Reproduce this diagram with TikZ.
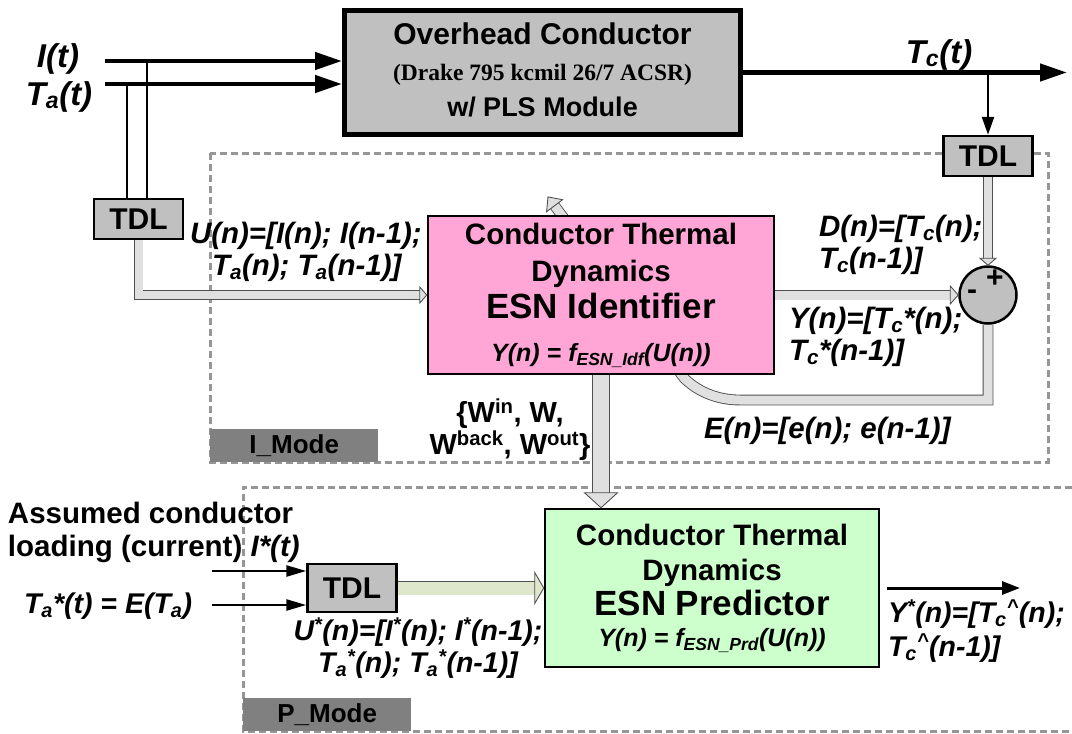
\documentclass[tikz,border=0pt]{standalone}
\usepackage{fontspec}
\setmainfont{Liberation Sans}
\newfontfamily\tms{Liberation Serif}
\usetikzlibrary{arrows.meta,backgrounds}

\definecolor{boxgray}{RGB}{192,192,192}
\definecolor{pinkbox}{RGB}{255,166,214}
\definecolor{greenbox}{RGB}{204,255,204}
\definecolor{dashgray}{RGB}{150,150,150}
\definecolor{modegray}{RGB}{128,128,128}
\definecolor{fatfill}{RGB}{224,224,224}
\definecolor{fatgreen}{RGB}{222,230,204}
\definecolor{fatline}{RGB}{80,80,80}

% fat arrow head: point, angle, length, half width, fill colour
\newcommand{\fathead}[5]{%
  \draw[fatline, line width=0.9pt, fill=#5, line join=miter, rotate around={#2:(#1)}]
    (#1) -- ++(-#3,#4) -- ++(0,-2*#4) -- cycle;}

\tikzset{
  lbl/.style={font=\fontsize{29.5}{32}\selectfont\bfseries\itshape, inner sep=0pt, outer sep=0pt},
  biglbl/.style={font=\fontsize{33}{35}\selectfont\bfseries\itshape, inner sep=0pt, outer sep=0pt},
  tdlbox/.style={draw, line width=2.5pt, fill=boxgray, minimum width=89pt, minimum height=40pt,
    inner sep=0pt, font=\fontsize{30}{32}\selectfont\bfseries},
  modebox/.style={fill=modegray, inner sep=0pt, minimum width=168pt, minimum height=33pt,
    font=\fontsize{26}{28}\selectfont\bfseries},
  dashrect/.style={dashgray, line width=3pt, dash pattern=on 7pt off 4pt},
  fat/.style={draw=fatline, line width=0.9pt, double=fatfill, double distance=#1},
  bigarrow/.style={line width=4.5pt, -{Triangle[length=27pt,width=17pt]}},
  midarrow/.style={line width=2.5pt, -{Triangle[length=20pt,width=11pt]}},
  thinline/.style={line width=2.5pt},
}

\begin{document}
\begin{tikzpicture}[x=1pt,y=-1pt]
\useasboundingbox (0,0) rectangle (1072,734);

% ---------- main blocks ----------
\node[draw, line width=5pt, fill=boxgray, minimum width=396pt, minimum height=124pt, inner sep=0pt,
  align=center, text depth=6pt, font=\fontsize{30}{36}\selectfont\bfseries] (oc) at (542.5,72.5)
  {Overhead Conductor\\{\tms\fontsize{23.5}{36}\selectfont (Drake 795 kcmil 26/7 ACSR)}\\{\fontsize{27}{36}\selectfont w/ PLS Module}};

\node[draw, line width=2.5pt, fill=pinkbox, minimum width=346pt, minimum height=158pt, inner sep=0pt,
  align=center, font=\fontsize{29.5}{37}\selectfont\bfseries] (pink) at (601,295)
  {Conductor Thermal\\Dynamics\\{\fontsize{35}{37}\selectfont ESN Identifier}\\[6pt]{\fontsize{25}{37}\selectfont\itshape Y(n) = f\textsubscript{ESN\_Idf}(U(n))}};

\node[draw, line width=2.5pt, fill=greenbox, minimum width=334pt, minimum height=158pt, inner sep=0pt,
  align=center, font=\fontsize{29.5}{35}\selectfont\bfseries] (green) at (712,588)
  {Conductor Thermal\\Dynamics\\{\fontsize{35}{35}\selectfont ESN Predictor}\\[-4pt]{\fontsize{25}{35}\selectfont\itshape Y(n) = f\textsubscript{ESN\_Prd}(U(n))}};

\node[tdlbox] (tdl1) at (138.5,219) {TDL};
\node[tdlbox] (tdl2) at (988,156) {TDL};
\node[tdlbox, minimum height=48pt] (tdl3) at (352,588) {TDL};

\node[circle, draw, line width=2.5pt, fill=boxgray, minimum size=57pt, inner sep=0pt] (sum) at (988,295) {};
\node[font=\fontsize{30}{32}\selectfont\bfseries, inner sep=0pt] (plus) at (995,279) {+};
\node[font=\fontsize{30}{32}\selectfont\bfseries, inner sep=0pt] (minus) at (972,295) {-};

\node[modebox, anchor=south west] (imode) at (210,462) {I\_Mode};
\node[modebox, anchor=south west] (pmode) at (243,731) {P\_Mode};

% ---------- background: mode frames and error path ----------
\coordinate (ecorner) at (740,400);
\coordinate (ebend) at (684,378);
\coordinate (etip) at (548,197);
\begin{pgfonlayer}{background}
  \draw[dashrect] (210,153) rectangle (1048,462);
  \draw[dashrect] (1072,487) -- (243,487) -- (243,731) -- (1072,731);
  \draw[fat=9pt, shorten >=10pt] (sum.south) |- (ecorner) .. controls (715,400) and (696,390) .. (ebend) -- (etip);
  \fathead{etip}{127}{11}{10}{fatfill}
\end{pgfonlayer}

% ---------- signal lines ----------
\coordinate (iin) at (105,61);
\coordinate (tin) at (105,84);
\draw[bigarrow] (iin) -- (iin -| oc.west);
\draw[bigarrow] (tin) -- (tin -| oc.west);
\coordinate (bi) at (147,61);
\coordinate (bt) at (127,84);
\draw[thinline] (bi) -- (bi |- tdl1.north);
\draw[thinline] (bt) -- (bt |- tdl1.north);

\coordinate (tcend) at (1067,72.5);
\draw[bigarrow] (oc.east) -- (tcend);
\coordinate (tcb) at (988,72.5);
\draw[line width=2.5pt, -{Triangle[length=18pt,width=12pt]}] (tcb) -- (tcb |- tdl2.north);

% fat arrows
\draw[fat=8pt, shorten >=6pt] (tdl1.south) |- (pink.west);
\fathead{pink.west}{0}{7}{8}{fatfill}
\draw[fat=8pt, shorten >=6pt] (tdl2.south) -- (sum.north);
\fathead{sum.north}{-90}{7}{8}{fatfill}
\draw[fat=9pt, shorten >=7pt] (pink.east) -- (sum.west);
\fathead{sum.west}{0}{8}{9}{fatfill}
\coordinate (wend) at (pink.south |- green.north);
\draw[fat=16pt, shorten >=14pt] (pink.south) -- (wend);
\fathead{wend}{-90}{15}{16.5}{fatfill}
\draw[fat=13pt, double=fatgreen, shorten >=8pt] (tdl3.east) -- (green.west);
\fathead{green.west}{0}{9}{15.5}{fatgreen}

% lower inputs and output
\coordinate (iin2) at (212,571);
\coordinate (tin2) at (212,605);
\draw[midarrow] (iin2) -- (iin2 -| tdl3.west);
\draw[midarrow] (tin2) -- (tin2 -| tdl3.west);
\coordinate (yout) at (1020,588);
\draw[line width=3pt, -{Triangle[length=18pt,width=13pt]}, shorten <=7pt] (green.east) -- (yout);

% ---------- labels ----------
\node[biglbl, anchor=base] (lI) at (58,67) {I(t)};
\node[biglbl, anchor=base] (lTa) at (59,105) {T\textsubscript{a}(t)};
\node[biglbl, anchor=base] (lTc) at (939,63) {T\textsubscript{c}(t)};

\node[lbl, align=left, anchor=north west] (lU) at (190,222)
  {U(n)=[I(n); I(n-1);\\\hspace*{22pt}T\textsubscript{a}(n); T\textsubscript{a}(n-1)]};
\node[lbl, align=left, anchor=north west] (lD) at (819,215)
  {D(n)=[T\textsubscript{c}(n);\\T\textsubscript{c}(n-1)]};
\node[lbl, align=left, anchor=north west] (lY) at (789,307)
  {Y(n)=[T\textsubscript{c}*(n);\\T\textsubscript{c}*(n-1)]};
\node[lbl, anchor=north west] (lE) at (704,417) {E(n)=[e(n); e(n-1)]};
\node[lbl, font=\fontsize{29}{32}\selectfont\bfseries, align=center, anchor=north] (lW) at (510,399)
  {\{W\textsuperscript{in}, W,\\W\textsuperscript{back}, W\textsuperscript{out}\}};

\node[lbl, font=\fontsize{29.5}{33}\selectfont\bfseries, align=left, anchor=north west] (lAs) at (8,502)
  {Assumed conductor\\loading (current) \textit{I*(t)}};
\node[lbl, font=\fontsize{28.5}{32}\selectfont\bfseries\itshape, anchor=north west] (lTas) at (24,593) {T\textsubscript{a}*(t) = E(T\textsubscript{a})};
\node[lbl, font=\fontsize{28.5}{32}\selectfont\bfseries\itshape, align=center, anchor=north] (lUs) at (418,618)
  {U\textsuperscript{*}(n)=[I\textsuperscript{*}(n); I\textsuperscript{*}(n-1);\\T\textsubscript{a}\textsuperscript{*}(n); T\textsubscript{a}\textsuperscript{*}(n-1)]};
\node[lbl, font=\fontsize{28.5}{34}\selectfont\bfseries\itshape, align=left, anchor=north west] (lYs) at (888,600)
  {Y\textsuperscript{*}(n)=[T\textsubscript{c}\textsuperscript{\textasciicircum}(n);\\T\textsubscript{c}\textsuperscript{\textasciicircum}(n-1)]};
\end{tikzpicture}
\end{document}
